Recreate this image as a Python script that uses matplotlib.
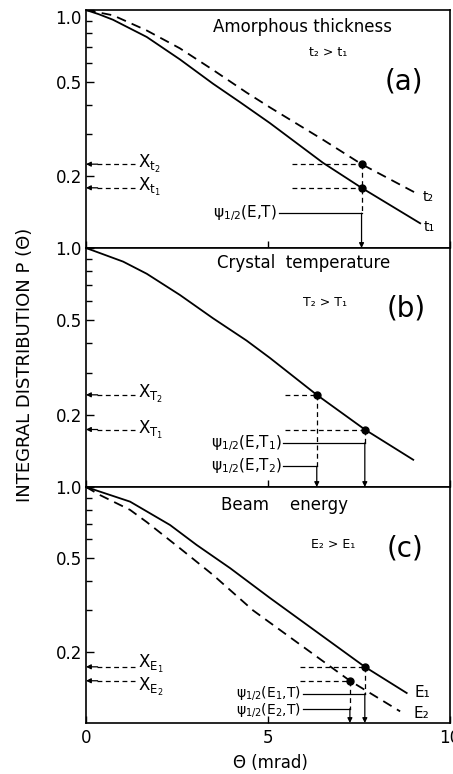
import matplotlib
matplotlib.use("Agg")
import matplotlib.pyplot as plt

plt.rcParams.update({
    "font.family": ["DejaVu Sans"],
    "mathtext.fontset": "dejavusans",
    "mathtext.default": "regular",
    "lines.scale_dashes": False,
})

# ---- (a) amorphous thickness ----
theta_t1 = [0.0, 0.35, 0.74, 1.67, 2.58, 3.49, 4.23, 5.05, 6.51, 7.57, 9.18]
p_t1 = [1.0, 0.96, 0.91, 0.77, 0.62, 0.49, 0.41, 0.335, 0.228, 0.179, 0.127]
theta_t2 = [0.0, 0.74, 1.67, 2.58, 3.49, 4.41, 5.05, 6.51, 7.57, 9.1]
p_t2 = [1.0, 0.95, 0.82, 0.69, 0.56, 0.45, 0.39, 0.285, 0.225, 0.169]
mark_a_theta = [7.57, 7.57]
mark_a_p = [0.179, 0.225]

# ---- (b) crystal temperature ----
theta_b = [0.0, 0.4, 1.02, 1.67, 2.58, 3.49, 4.41, 5.05, 6.34, 7.66, 8.99]
p_b = [1.0, 0.95, 0.877, 0.78, 0.636, 0.508, 0.41, 0.347, 0.243, 0.174, 0.130]
mark_b_theta = [6.34, 7.66]
mark_b_p = [0.243, 0.174]

# ---- (c) beam energy ----
theta_e1 = [0.0, 1.21, 2.31, 3.04, 3.96, 5.05, 7.66, 8.81]
p_e1 = [1.0, 0.867, 0.69, 0.568, 0.453, 0.339, 0.173, 0.134]
theta_e2 = [0.0, 0.38, 1.21, 1.67, 2.58, 3.49, 4.59, 7.25, 8.63]
p_e2 = [1.0, 0.925, 0.80, 0.71, 0.55, 0.424, 0.30, 0.151, 0.112]
mark_c_theta = [7.66, 7.25]
mark_c_p = [0.173, 0.151]

y_major = [0.2, 0.5, 1.0]
y_major_labels = ["0.2", "0.5", "1.0"]
y_minor = [0.3, 0.4, 0.6, 0.7, 0.8, 0.9]
x_ticks = [0, 5, 10]
x_tick_labels = ["0", "5", "10"]

GUIDE = dict(color="k", lw=0.9, linestyle=(0, (3.5, 2.5)))
CURVE_SOLID = dict(color="k", lw=1.3)
CURVE_DASHED = dict(color="k", lw=1.3, linestyle=(0, (7, 4.5)))

fig = plt.figure(figsize=(4.53, 7.74), dpi=100)
left, width = 86 / 453, 364 / 453
ax_a = fig.add_axes([left, 0.6796, width, 0.3075])
ax_b = fig.add_axes([left, 0.3708, width, 0.3088])
ax_c = fig.add_axes([left, 0.0659, width, 0.3049])


def setup(ax, show_x=False, top_label=True):
    ax.set_yscale("log")
    ax.set_xlim(0, 10)
    ax.set_ylim(0.1, 1.0)
    ax.set_yticks(y_major)
    labels = list(y_major_labels)
    if not top_label:
        labels[-1] = ""
    ax.set_yticklabels(labels)
    ax.set_yticks(y_minor, minor=True)
    ax.yaxis.set_minor_formatter(plt.NullFormatter())
    ax.set_xticks(x_ticks)
    ax.set_xticklabels(x_tick_labels)
    ax.tick_params(axis="both", which="both", direction="in", labelsize=12,
                   top=False, right=False, width=1.0)
    ax.tick_params(axis="y", which="major", length=6, pad=3)
    ax.tick_params(axis="y", which="minor", length=4)
    ax.tick_params(axis="x", which="major", length=5, pad=4)
    ax.tick_params(labelbottom=show_x)
    for s in ax.spines.values():
        s.set_linewidth(1.2)


def left_arrow(ax, p, x_end=1.35):
    ax.plot([0.3, x_end], [p, p], **GUIDE)
    ax.annotate("", xy=(0, p), xytext=(0.32, p), annotation_clip=False,
                arrowprops=dict(arrowstyle="-|>", color="k", lw=0.9,
                                mutation_scale=7, shrinkA=0, shrinkB=0))


def drop_arrow(ax, theta, p_psi, x_label_end):
    ax.plot([x_label_end, theta], [p_psi, p_psi], color="k", lw=0.9)
    ax.annotate("", xy=(theta, 0.1), xytext=(theta, p_psi), annotation_clip=False,
                arrowprops=dict(arrowstyle="-|>", color="k", lw=0.9,
                                mutation_scale=7, shrinkA=0, shrinkB=0))


# ---------------- panel (a) ----------------
setup(ax_a, top_label=False)
ax_a.text(-0.011, 1.0, "1.0", transform=ax_a.get_yaxis_transform(),
          ha="right", va="top", fontsize=12)
ax_a.plot(theta_t1, p_t1, **CURVE_SOLID)
ax_a.plot(theta_t2, p_t2, **CURVE_DASHED)
ax_a.plot(mark_a_theta, mark_a_p, "o", color="k", ms=5)
for p in mark_a_p:
    ax_a.plot([5.66, mark_a_theta[0]], [p, p], **GUIDE)
    left_arrow(ax_a, p)
ax_a.plot([mark_a_theta[1], mark_a_theta[1]], [max(mark_a_p), 0.14], **GUIDE)
drop_arrow(ax_a, mark_a_theta[0], 0.14, 5.3)
ax_a.text(5.25, 0.14, r"$\psi_{1/2}$(E,T)", ha="right", va="center", fontsize=11)
ax_a.text(1.43, 0.226, r"X$_{t_2}$", ha="left", va="center", fontsize=12)
ax_a.text(1.43, 0.180, r"X$_{t_1}$", ha="left", va="center", fontsize=12)
ax_a.text(9.25, 0.163, "t₂", ha="left", va="center", fontsize=10)
ax_a.text(9.28, 0.123, "t₁", ha="left", va="center", fontsize=10)
ax_a.text(5.94, 0.85, "Amorphous thickness", ha="center", va="center", fontsize=12)
ax_a.text(6.65, 0.66, "t₂ > t₁", ha="center", va="center", fontsize=9)
ax_a.text(8.74, 0.5, "(a)", ha="center", va="center", fontsize=20)

# ---------------- panel (b) ----------------
setup(ax_b)
ax_b.plot(theta_b, p_b, **CURVE_SOLID)
ax_b.plot(mark_b_theta, mark_b_p, "o", color="k", ms=5)
for th, p in zip(mark_b_theta, mark_b_p):
    ax_b.plot([5.47, th], [p, p], **GUIDE)
    left_arrow(ax_b, p)
ax_b.plot([mark_b_theta[0], mark_b_theta[0]], [mark_b_p[0], 0.122], **GUIDE)
ax_b.plot([mark_b_theta[1], mark_b_theta[1]], [mark_b_p[1], 0.153], **GUIDE)
drop_arrow(ax_b, mark_b_theta[1], 0.153, 5.42)
drop_arrow(ax_b, mark_b_theta[0], 0.122, 5.42)
ax_b.text(5.4, 0.153, r"$\psi_{1/2}$(E,T$_1$)", ha="right", va="center", fontsize=11)
ax_b.text(5.4, 0.122, r"$\psi_{1/2}$(E,T$_2$)", ha="right", va="center", fontsize=11)
ax_b.text(1.43, 0.245, r"X$_{T_2}$", ha="left", va="center", fontsize=12)
ax_b.text(1.43, 0.174, r"X$_{T_1}$", ha="left", va="center", fontsize=12)
ax_b.text(5.99, 0.865, "Crystal  temperature", ha="center", va="center", fontsize=12)
ax_b.text(6.57, 0.594, "T₂ > T₁", ha="center", va="center", fontsize=9)
ax_b.text(8.8, 0.56, "(b)", ha="center", va="center", fontsize=20)

# ---------------- panel (c) ----------------
setup(ax_c, show_x=True)
ax_c.plot(theta_e1, p_e1, **CURVE_SOLID)
ax_c.plot(theta_e2, p_e2, **CURVE_DASHED)
ax_c.plot(mark_c_theta, mark_c_p, "o", color="k", ms=5)
for th, p in zip(mark_c_theta, mark_c_p):
    ax_c.plot([5.88, th], [p, p], **GUIDE)
    left_arrow(ax_c, p)
ax_c.plot([mark_c_theta[0], mark_c_theta[0]], [mark_c_p[0], 0.133], **GUIDE)
ax_c.plot([mark_c_theta[1], mark_c_theta[1]], [mark_c_p[1], 0.115], **GUIDE)
drop_arrow(ax_c, mark_c_theta[0], 0.133, 5.95)
drop_arrow(ax_c, mark_c_theta[1], 0.115, 5.95)
ax_c.text(5.9, 0.134, r"$\psi_{1/2}$(E$_1$,T)", ha="right", va="center", fontsize=10)
ax_c.text(5.9, 0.114, r"$\psi_{1/2}$(E$_2$,T)", ha="right", va="center", fontsize=10)
ax_c.text(1.43, 0.178, r"X$_{E_1}$", ha="left", va="center", fontsize=12)
ax_c.text(1.43, 0.142, r"X$_{E_2}$", ha="left", va="center", fontsize=12)
ax_c.text(9.02, 0.134, "E₁", ha="left", va="center", fontsize=11)
ax_c.text(9.0, 0.110, "E₂", ha="left", va="center", fontsize=11)
ax_c.text(5.44, 0.84, "Beam    energy", ha="center", va="center", fontsize=12)
ax_c.text(6.8, 0.568, "E₂ > E₁", ha="center", va="center", fontsize=9)
ax_c.text(8.77, 0.55, "(c)", ha="center", va="center", fontsize=20)

fig.text(25 / 453, 1 - 365 / 774, "INTEGRAL DISTRIBUTION P (Θ)", rotation=90,
         ha="center", va="center", fontsize=13)
fig.text(270 / 453, 1 - 763 / 774, "Θ (mrad)", ha="center", va="center", fontsize=12)

fig.savefig("out.png", dpi=100)
